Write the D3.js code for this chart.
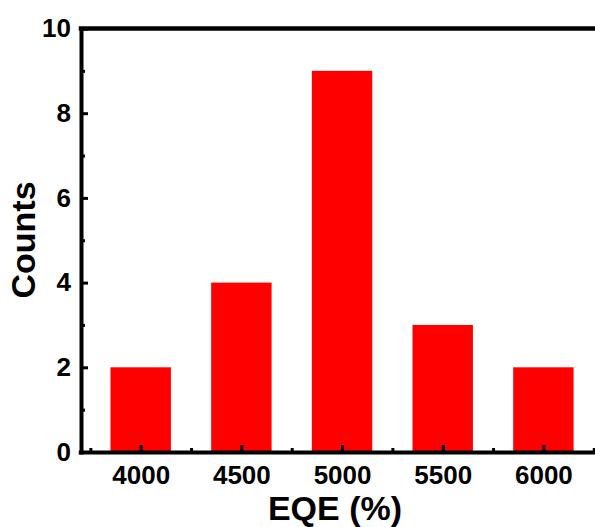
<!DOCTYPE html>
<html>
<head>
<meta charset="utf-8">
<script src="https://cdn.jsdelivr.net/npm/d3@7"></script>
<style>
  body { margin: 0; background: #fff; }
  text { font-family: "Liberation Sans", Arial, sans-serif; font-weight: bold; }
</style>
</head>
<body>
<div id="chart"></div>
<script>
// data
var bins = [4000, 4500, 5000, 5500, 6000];
var counts = [2, 4, 9, 3, 2];
var xMajor = [4000, 4500, 5000, 5500, 6000];
var xMinor = [3750, 4250, 4750, 5250, 5750, 6250];
var yMajor = [0, 2, 4, 6, 8, 10];
var yMinor = [1, 3, 5, 7, 9];
var binWidth = 300;

var svgWidth = 595;
var svgHeight = 527;

var svg = d3.select("#chart").append("svg")
    .attr("width", svgWidth)
    .attr("height", svgHeight);

// scales
var x = d3.scaleLinear().domain([3700, 6300]).range([80.3, 603.8]);
var y = d3.scaleLinear().domain([0, 10]).range([452, 28.5]);

// bars
svg.selectAll("rect.bar")
    .data(bins)
    .enter()
    .append("rect")
    .attr("class", "bar")
    .attr("x", d => x(d - binWidth / 2))
    .attr("width", d => x(d + binWidth / 2) - x(d - binWidth / 2))
    .attr("y", (d, i) => y(counts[i]))
    .attr("height", (d, i) => y(0) - y(counts[i]))
    .attr("fill", "#ff0000");

// bottom axis
var xAxis = svg.append("g")
    .attr("transform", `translate(0, ${y(0)})`)
    .call(d3.axisBottom(x).tickValues(xMajor).tickSizeInner(-7).tickSizeOuter(0).tickPadding(14).tickFormat(d3.format("d")));

var xMinorAxis = svg.append("g")
    .attr("transform", `translate(0, ${y(0)})`)
    .call(d3.axisBottom(x).tickValues(xMinor).tickSizeInner(-4).tickSizeOuter(0).tickFormat(""));
xMinorAxis.select(".domain").remove();

// left axis
var yAxis = svg.append("g")
    .attr("transform", `translate(${x(3700) + 0.7}, 0)`)
    .call(d3.axisLeft(y).tickValues(yMajor).tickSizeInner(-7).tickSizeOuter(0).tickPadding(10));

var yMinorAxis = svg.append("g")
    .attr("transform", `translate(${x(3700) + 0.7}, 0)`)
    .call(d3.axisLeft(y).tickValues(yMinor).tickSizeInner(-4).tickSizeOuter(0).tickFormat(""));
yMinorAxis.select(".domain").remove();

// top frame line
svg.append("line")
    .attr("x1", x(3700) + 0.7)
    .attr("x2", x(6300))
    .attr("y1", y(10))
    .attr("y2", y(10))
    .attr("stroke", "#000")
    .attr("stroke-width", 4.5)
    .attr("stroke-linecap", "square");

svg.selectAll(".domain")
    .attr("stroke", "#000")
    .attr("stroke-width", 4)
    .attr("stroke-linecap", "square");

svg.selectAll(".tick line")
    .attr("stroke", "#000")
    .attr("stroke-width", 3);

svg.selectAll(".tick text")
    .attr("fill", "#000")
    .style("font-size", "26px");

// axis titles
svg.append("text")
    .attr("x", 335)
    .attr("y", 520)
    .attr("text-anchor", "middle")
    .style("font-size", "34px")
    .text("EQE (%)");

svg.append("text")
    .attr("transform", "translate(35, 240) rotate(-90)")
    .attr("text-anchor", "middle")
    .style("font-size", "34px")
    .text("Counts");
</script>
</body>
</html>
